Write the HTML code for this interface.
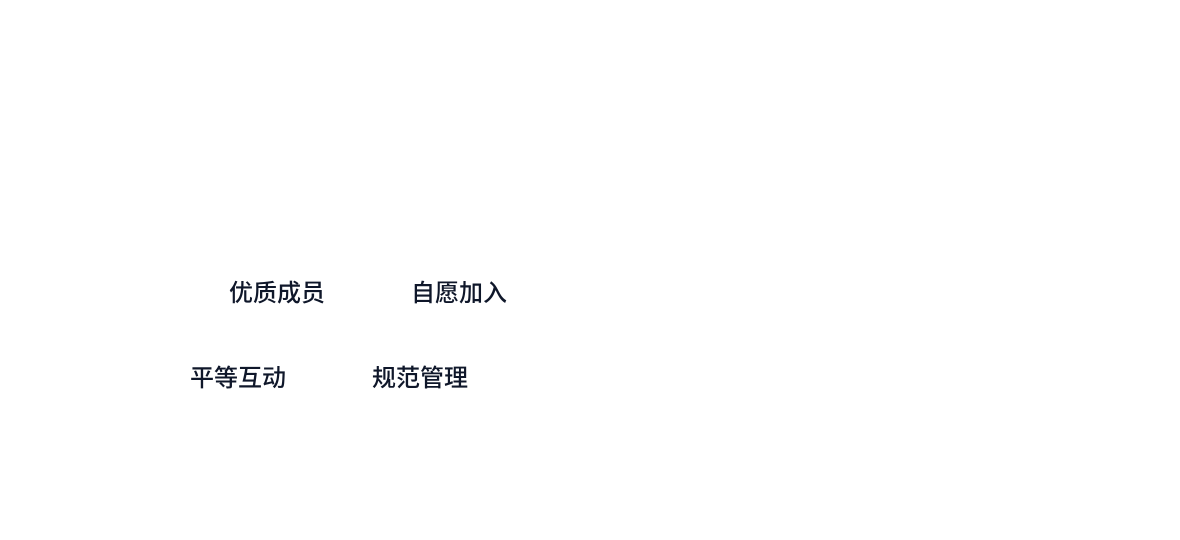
<!DOCTYPE html>
<html><head><meta charset="utf-8"><style>
html,body{margin:0;padding:0;background:#fff;}
body{width:1180px;height:540px;position:relative;overflow:hidden;}
.t{position:absolute;font-family:"Liberation Sans","Noto Sans CJK SC",sans-serif;font-size:24px;font-weight:500;color:#0f172a;line-height:1;white-space:nowrap;}
</style></head><body>
<div class="t" style="left:229px;top:282px;">优质成员</div>
<div class="t" style="left:411px;top:282px;">自愿加入</div>
<div class="t" style="left:190px;top:367px;">平等互动</div>
<div class="t" style="left:372px;top:367px;">规范管理</div>
</body></html>
